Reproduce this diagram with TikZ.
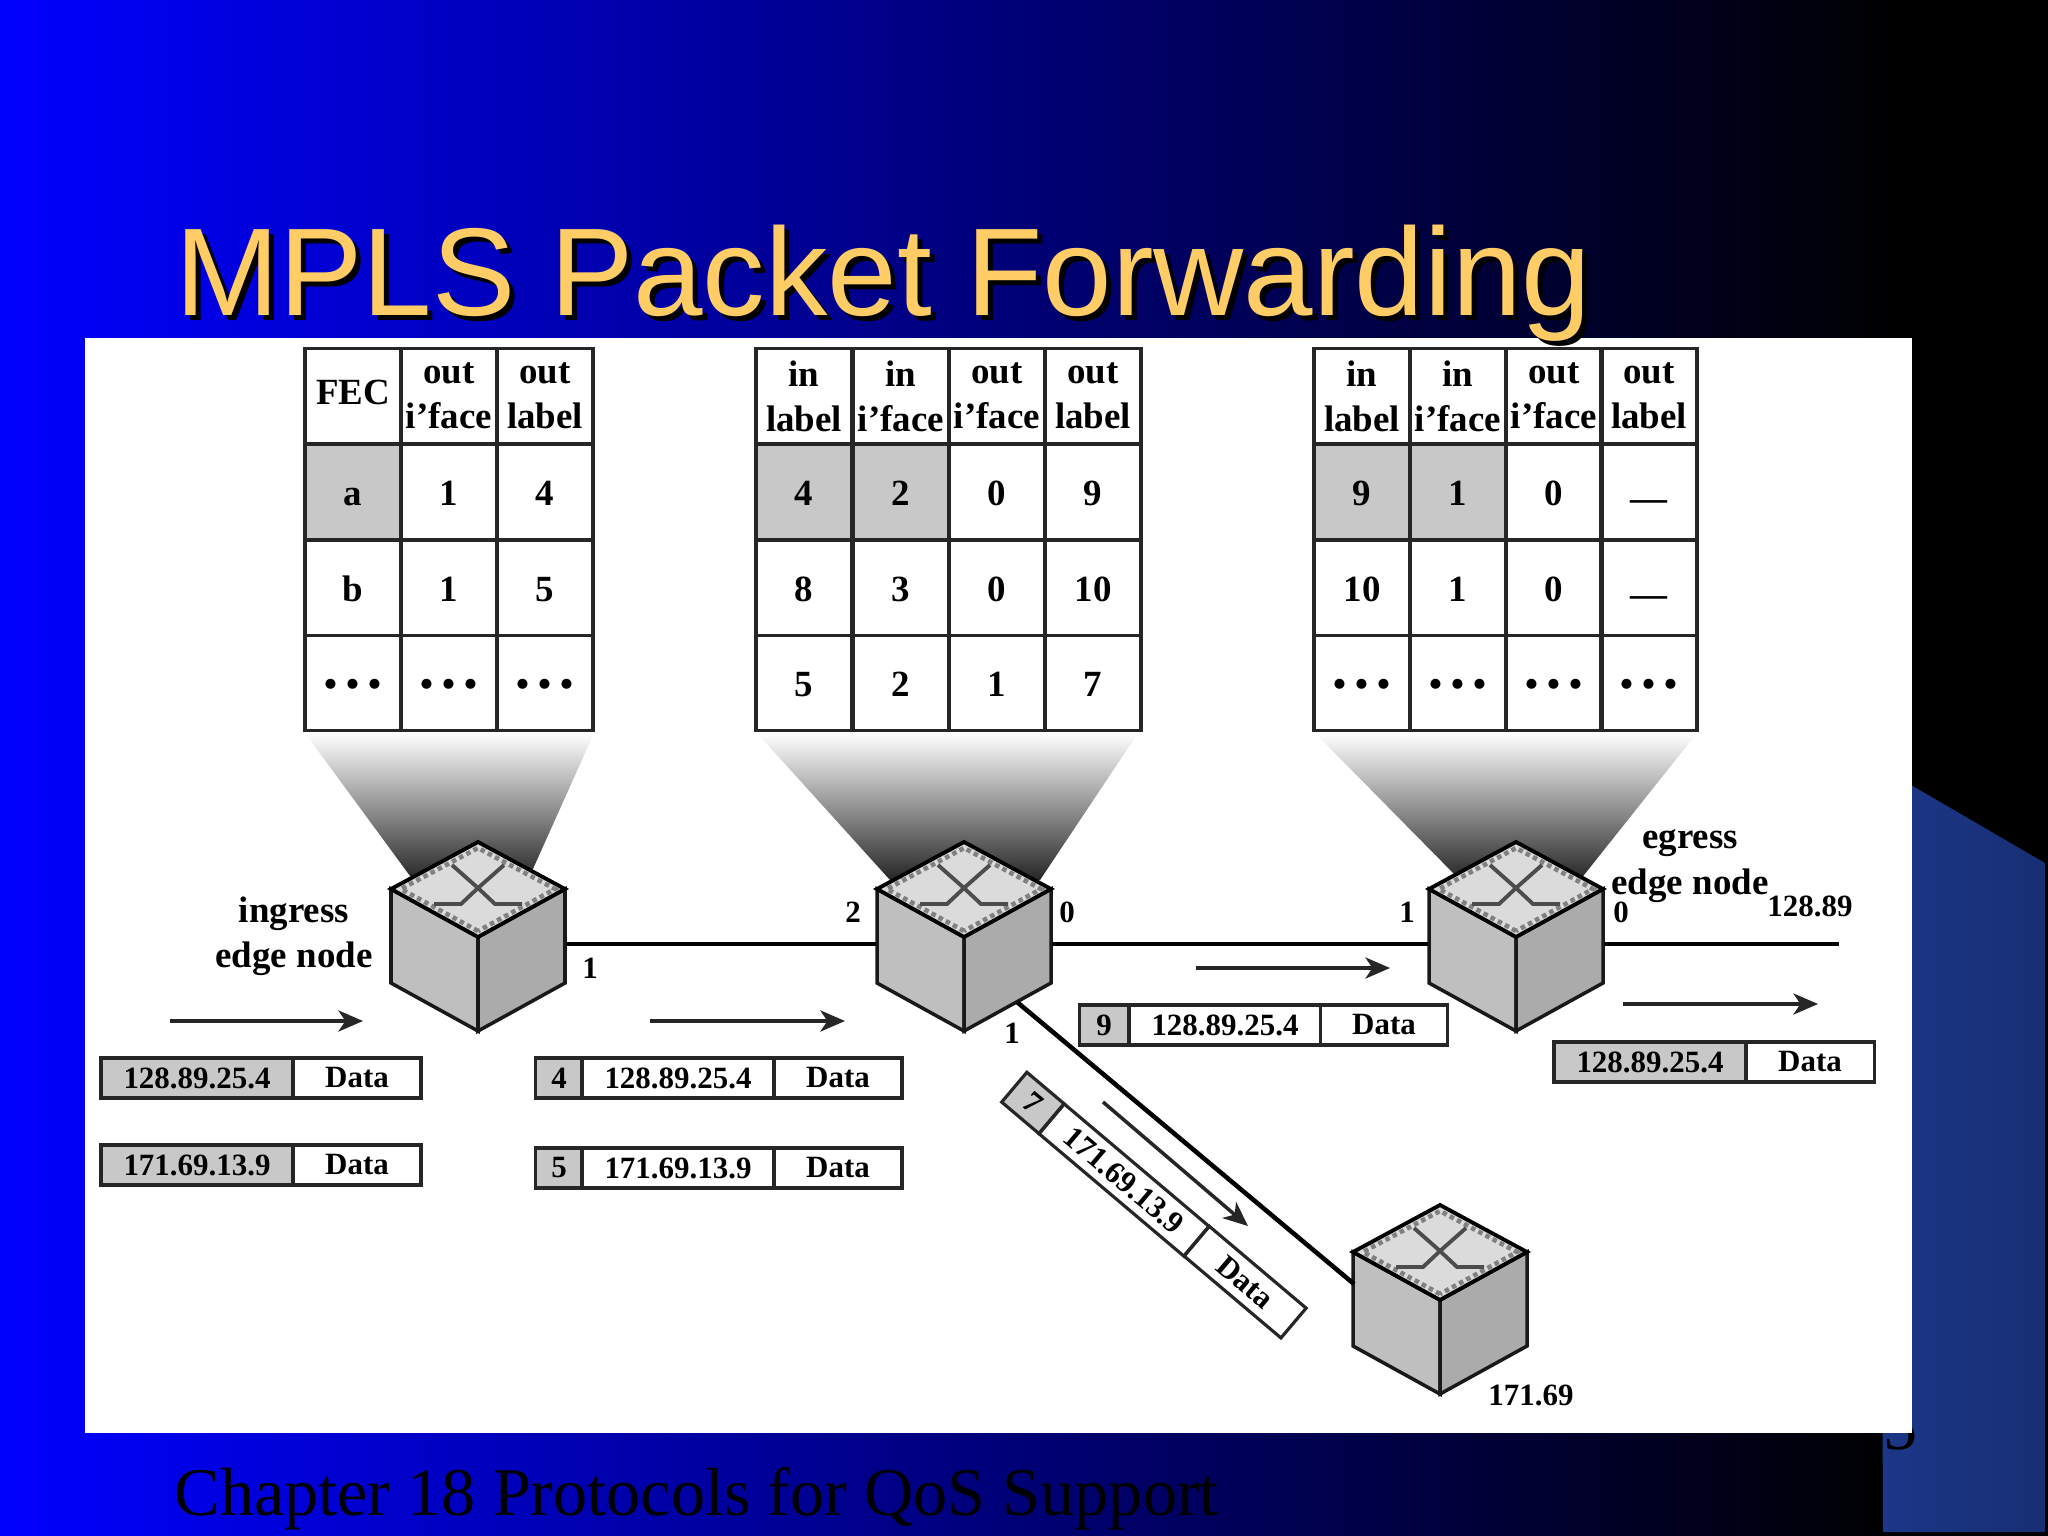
\documentclass[tikz,border=0pt]{standalone}
\usepackage{fontspec}
\setmainfont{Liberation Serif}
\newfontfamily\titlefont{Liberation Sans}
\usetikzlibrary{arrows.meta}
\definecolor{titleyellow}{RGB}{255,204,102}
\definecolor{cornerblue}{RGB}{28,55,136}
\definecolor{cellgray}{RGB}{200,200,200}

\begin{document}
\begin{tikzpicture}[x=.01cm,y=-.01cm,>={Stealth[length=7pt,width=6pt,inset=2pt]},
  cell/.style={draw=black!85,line width=.9pt,minimum width=.96cm,minimum height=.957cm,inner sep=0pt,align=center,execute at begin node=\rule{0pt}{7.5pt},font=\fontsize{10.5}{12.8}\selectfont\bfseries},
  hit/.style={cell,fill=cellgray},
  pkt/.style={draw=black!85,line width=.9pt,minimum height=.4cm,inner sep=0pt,font=\fontsize{8.8}{10}\selectfont\bfseries},
  tag/.style={inner sep=0pt,font=\fontsize{8.8}{10}\selectfont\bfseries},
  role/.style={inner sep=0pt,align=center,font=\fontsize{10.5}{12.9}\selectfont\bfseries},
  link/.style={line width=1.3pt,black},
  flow/.style={->,line width=1pt,black!85},
  fan/.style={top color=white,bottom color=black!85},
  pics/router/.style={code={
    \node[minimum width=1.74cm,minimum height=1.88cm,inner sep=0pt] (-box) at (0,7) {};
    \draw[line width=1pt,black!90,fill=black!25] (0,0) -- (-87,-48) -- (-87,46) -- (0,94) -- cycle;
    \draw[line width=1pt,black!90,fill=black!33] (0,0) -- (87,-48) -- (87,46) -- (0,94) -- cycle;
    \draw[line width=1.1pt,black,fill=black!14] (0,0) -- (-87,-48) -- (0,-95) -- (87,-48) -- cycle;
    \draw[line width=1.3pt,densely dotted,black!50] (0,-6) -- (-77,-48) -- (0,-89) -- (77,-48) -- cycle;
    \draw[line width=1.1pt,black!70] (-26,-72) -- (0,-49) -- (26,-72);
    \draw[line width=1.1pt,black!70] (-44,-33) -- (-17,-33) -- (0,-49) -- (17,-33) -- (44,-33);
  }}]
\useasboundingbox (0,0) rectangle (2048,1536);

  % slide background
  \fill[black] (0,0) rectangle (2048,1536);
  \shade[left color=blue,right color=black] (0,0) rectangle (1900,1536);
  \shade[left color=cornerblue,right color=cornerblue!85!black] (1880,767) -- (2045,863) -- (2045,1532) -- (1883,1532) -- cycle;
  \node[anchor=base east,inner sep=0pt,black,font=\fontsize{19.4}{22}\selectfont] (page) at (1918,1449) {5};
  \fill[white] (85,338) rectangle (1912,1433);
  \node[anchor=base west,inner sep=0pt,black,font=\fontsize{35.5}{40}\titlefont] (shadow) at (180,320) {MPLS Packet Forwarding};
  \node[anchor=base west,inner sep=0pt,titleyellow,font=\fontsize{35.5}{40}\titlefont] (title) at (175,315) {MPLS Packet Forwarding};
  \node[anchor=base west,inner sep=0pt,black,font=\fontsize{19.4}{22}\selectfont] (footer) at (174,1515) {Chapter 18 Protocols for QoS Support};

  % fans between tables and routers
  \shade[fan] (305,733) -- (594,733) -- (528,880) -- (413,880) -- cycle;
  \shade[fan] (757,733) -- (1138,733) -- (1040,880) -- (890,880) -- cycle;
  \shade[fan] (1315,733) -- (1697,733) -- (1580,880) -- (1460,880) -- cycle;

  % ingress table
  \node[cell] (a1) at (353,396) {\raisebox{2.2pt}{FEC}};
  \node[cell] (a2) at (449,396) {out\\i'face};
  \node[cell] (a3) at (545,396) {out\\label};
  \node[hit] (a4) at (353,492) {a};
  \node[cell] (a5) at (449,492) {1};
  \node[cell] (a6) at (545,492) {4};
  \node[cell] (a7) at (353,588) {b};
  \node[cell] (a8) at (449,588) {1};
  \node[cell] (a9) at (545,588) {5};
  \node[cell] (a10) at (353,683) {• • •};
  \node[cell] (a11) at (449,683) {• • •};
  \node[cell] (a12) at (545,683) {• • •};

  % core table
  \node[cell] (b1) at (804,396) {in\\label};
  \node[cell] (b2) at (901,396) {in\\i'face};
  \node[cell] (b3) at (997,396) {out\\i'face};
  \node[cell] (b4) at (1093,396) {out\\label};
  \node[hit] (b5) at (804,492) {4};
  \node[hit] (b6) at (901,492) {2};
  \node[cell] (b7) at (997,492) {0};
  \node[cell] (b8) at (1093,492) {9};
  \node[cell] (b9) at (804,588) {8};
  \node[cell] (b10) at (901,588) {3};
  \node[cell] (b11) at (997,588) {0};
  \node[cell] (b12) at (1093,588) {10};
  \node[cell] (b13) at (804,683) {5};
  \node[cell] (b14) at (901,683) {2};
  \node[cell] (b15) at (997,683) {1};
  \node[cell] (b16) at (1093,683) {7};

  % egress table
  \node[cell] (c1) at (1362,396) {in\\label};
  \node[cell] (c2) at (1458,396) {in\\i'face};
  \node[cell] (c3) at (1554,396) {out\\i'face};
  \node[cell] (c4) at (1649,396) {out\\label};
  \node[hit] (c5) at (1362,492) {9};
  \node[hit] (c6) at (1458,492) {1};
  \node[cell] (c7) at (1554,492) {0};
  \node[cell] (c8) at (1649,492) {\raisebox{-3.2pt}{---}};
  \node[cell] (c9) at (1362,588) {10};
  \node[cell] (c10) at (1458,588) {1};
  \node[cell] (c11) at (1554,588) {0};
  \node[cell] (c12) at (1649,588) {\raisebox{-3.2pt}{---}};
  \node[cell] (c13) at (1362,683) {• • •};
  \node[cell] (c14) at (1458,683) {• • •};
  \node[cell] (c15) at (1554,683) {• • •};
  \node[cell] (c16) at (1649,683) {• • •};

  % routers
  \pic (ingress) at (478,937) {router};
  \pic (core) at (964,937) {router};
  \pic (egress) at (1516,937) {router};
  \pic (lower) at (1440,1300) {router};

  % links
  \coordinate (coreport) at (1017,1002);
  \coordinate (lowerport) at (1354,1284);
  \coordinate (out) at (1839,944);
  \draw[link] (ingress-box.east) -- (core-box.west);
  \draw[link] (core-box.east) -- (egress-box.west);
  \draw[link] (egress-box.east) -- (out);
  \draw[link] (coreport) -- (lowerport);

  % flow arrows
  \coordinate (f1a) at (170,1021);
  \coordinate (f1b) at (363,1021);
  \coordinate (f2a) at (650,1021);
  \coordinate (f2b) at (845,1021);
  \coordinate (f3a) at (1196,968);
  \coordinate (f3b) at (1390,968);
  \coordinate (f4a) at (1623,1004);
  \coordinate (f4b) at (1818,1004);
  \coordinate (f5a) at (1103,1102);
  \coordinate (f5b) at (1248,1226);
  \draw[flow] (f1a) -- (f1b);
  \draw[flow] (f2a) -- (f2b);
  \draw[flow] (f3a) -- (f3b);
  \draw[flow] (f4a) -- (f4b);
  \draw[flow] (f5a) -- (f5b);

  % packets
  \node[pkt,fill=cellgray,minimum width=1.92cm] (p1) at (197,1078) {128.89.25.4};
  \node[pkt,minimum width=1.28cm] (p2) at (357,1078) {Data};
  \node[pkt,fill=cellgray,minimum width=1.92cm] (p3) at (197,1165) {171.69.13.9};
  \node[pkt,minimum width=1.28cm] (p4) at (357,1165) {Data};
  \node[pkt,fill=cellgray,minimum width=.475cm] (q1) at (559,1078) {4};
  \node[pkt,minimum width=1.92cm] (q2) at (678,1078) {128.89.25.4};
  \node[pkt,minimum width=1.28cm] (q3) at (838,1078) {Data};
  \node[pkt,fill=cellgray,minimum width=.475cm] (q4) at (559,1168) {5};
  \node[pkt,minimum width=1.92cm] (q5) at (678,1168) {171.69.13.9};
  \node[pkt,minimum width=1.28cm] (q6) at (838,1168) {Data};
  \node[pkt,fill=cellgray,minimum width=.49cm] (r1) at (1104,1025) {9};
  \node[pkt,minimum width=1.91cm] (r2) at (1225,1025) {128.89.25.4};
  \node[pkt,minimum width=1.27cm] (r3) at (1384,1025) {Data};
  \node[pkt,fill=cellgray,minimum width=1.92cm] (s1) at (1650,1062) {128.89.25.4};
  \node[pkt,minimum width=1.29cm] (s2) at (1810,1062) {Data};
  \node[pkt,fill=cellgray,minimum width=.49cm,minimum height=.39cm,rotate=-40.2] (t1) at (1033,1103) {7};
  \node[pkt,minimum width=1.9cm,minimum height=.39cm,rotate=-40.2] (t2) at (1124,1180) {171.69.13.9};
  \node[pkt,minimum width=1.27cm,minimum height=.39cm,rotate=-40.2] (t3) at (1245,1282) {Data};

  % labels
  \node[role] (inlabel) at (294,936) {ingress\\edge node};
  \node[role] (eglabel) at (1690,866) {egress\\edge node};
  \node[tag] (n1) at (590,968) {1};
  \node[tag] (n2) at (853,912) {2};
  \node[tag] (n3) at (1067,912) {0};
  \node[tag] (n4) at (1012,1033) {1};
  \node[tag] (n5) at (1407,912) {1};
  \node[tag] (n6) at (1621,912) {0};
  \node[tag] (n7) at (1810,906) {128.89};
  \node[tag] (n8) at (1531,1395) {171.69};
\end{tikzpicture}
\end{document}
